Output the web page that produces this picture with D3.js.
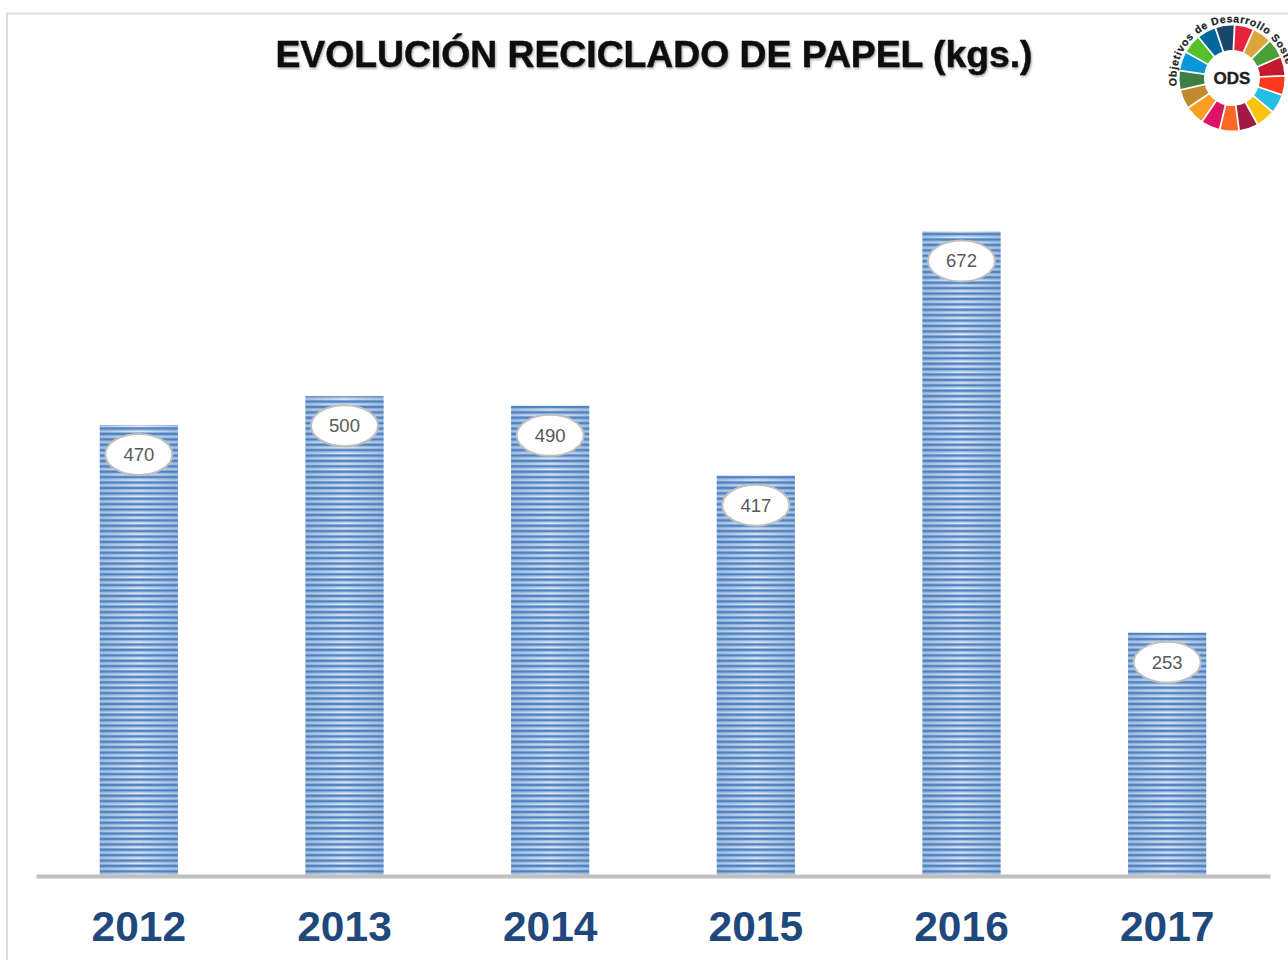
<!DOCTYPE html>
<html>
<head>
<meta charset="utf-8">
<script src="https://cdn.jsdelivr.net/npm/d3@7"></script>
<style>
html, body { margin: 0; padding: 0; background: #fff; overflow: hidden; }
svg { display: block; font-family: "Liberation Sans", Arial, sans-serif; }
</style>
</head>
<body>
<div id="chart"></div>
<script>
var years = ["2012", "2013", "2014", "2015", "2016", "2017"];
var kilos = [470, 500, 490, 417, 672, 253];
var odsColors = ["#e5243b", "#dda63a", "#4c9f38", "#c5192d", "#ff3a21", "#26bde2", "#fcc30b", "#a21942", "#fd6925",
  "#dd1367", "#fd9d24", "#bf8b2e", "#3f7e44", "#0a97d9", "#56c02b", "#00689d", "#19486a"];

var width = 1288, height = 960;
var baseline = 875, chartLeft = 36, chartRight = 1270;

var svg = d3.select("#chart").append("svg")
  .attr("width", width)
  .attr("height", height);

// thin horizontal stripes used to fill the bars
var defs = svg.append("defs");
var stripes = defs.append("pattern")
  .attr("id", "stripes")
  .attr("patternUnits", "userSpaceOnUse")
  .attr("width", 10)
  .attr("height", 5.4)
  .attr("y", baseline);
stripes.append("rect").attr("width", 10).attr("height", 5.4).attr("fill", "#e4ecf7");
stripes.append("rect").attr("width", 10).attr("y", 0.4).attr("height", 2.7).attr("fill", "#4f83c4");
stripes.append("rect").attr("width", 10).attr("y", 3.1).attr("height", 0.9).attr("fill", "#9dbbe0");

var fade = defs.append("linearGradient").attr("id", "edgeFade");
fade.append("stop").attr("offset", "0").attr("stop-color", "#4f81bd").attr("stop-opacity", 0.35);
fade.append("stop").attr("offset", "0.5").attr("stop-color", "#4f81bd").attr("stop-opacity", 0);
fade.append("stop").attr("offset", "1").attr("stop-color", "#4f81bd").attr("stop-opacity", 0.35);

var titleShadow = defs.append("filter").attr("id", "titleShadow");
titleShadow.append("feDropShadow")
  .attr("dx", 1)
  .attr("dy", 1.5)
  .attr("stdDeviation", 0.9)
  .attr("flood-color", "#000")
  .attr("flood-opacity", 0.35);

// outer frame of the slide, only top and left are visible
svg.append("path")
  .attr("d", "M7,960V13.5H1288")
  .attr("fill", "none")
  .attr("stroke", "#dcdcdc")
  .attr("stroke-width", 2);

var x = d3.scaleBand()
  .domain(years)
  .range([chartLeft, chartRight])
  .paddingInner(0.62)
  .paddingOuter(0.31);

var y = d3.scaleLinear()
  .domain([0, 672])
  .range([baseline, 231.5]);

var rows = years.map(function(d, i) { return {year: d, value: kilos[i]}; });

var bar = svg.selectAll(".bar")
  .data(rows)
  .join("g")
  .attr("class", "bar");

bar.append("rect")
  .attr("x", (d) => x(d.year))
  .attr("y", (d) => y(d.value))
  .attr("width", x.bandwidth())
  .attr("height", (d) => baseline - y(d.value))
  .attr("fill", "url(#stripes)");

bar.append("rect")
  .attr("x", (d) => x(d.year))
  .attr("y", (d) => y(d.value))
  .attr("width", x.bandwidth())
  .attr("height", (d) => baseline - y(d.value))
  .attr("fill", "url(#edgeFade)");

// axis line and year labels
var xAxis = d3.axisBottom(x).tickSize(0).tickPadding(35);
var axisG = svg.append("g")
  .attr("class", "x axis")
  .attr("transform", "translate(0," + (baseline + 1) + ")")
  .call(xAxis);
axisG.select(".domain")
  .attr("stroke", "#bfbfbf")
  .attr("stroke-width", 4);
axisG.selectAll("text")
  .attr("fill", "#1f497d")
  .style("font-family", '"Liberation Sans", Arial, sans-serif')
  .style("font-size", "42.5px")
  .style("font-weight", "bold");

// value bubbles
bar.append("ellipse")
  .attr("cx", (d) => x(d.year) + x.bandwidth() / 2)
  .attr("cy", (d) => y(d.value) + 29.5)
  .attr("rx", 33.5)
  .attr("ry", 20.5)
  .attr("fill", "#fff")
  .attr("stroke", "#bfbfbf")
  .attr("stroke-width", 2);

bar.append("text")
  .attr("x", (d) => x(d.year) + x.bandwidth() / 2)
  .attr("y", (d) => y(d.value) + 29.5)
  .attr("dy", ".35em")
  .attr("text-anchor", "middle")
  .attr("fill", "#595959")
  .style("font-size", "18.5px")
  .text((d) => d.value);

svg.append("text")
  .attr("x", 654)
  .attr("y", 67)
  .attr("text-anchor", "middle")
  .attr("fill", "#111")
  .attr("stroke", "#111")
  .attr("stroke-width", 0.5)
  .attr("filter", "url(#titleShadow)")
  .style("font-size", "37.3px")
  .style("font-weight", "bold")
  .text("EVOLUCIÓN RECICLADO DE PAPEL (kgs.)");

// ODS wheel in the top right corner
var logo = svg.append("g")
  .attr("class", "logo")
  .attr("transform", "translate(1232,78)");

var arc = d3.arc()
  .innerRadius(28)
  .outerRadius(52.5)
  .padAngle(0.03);

var slice = 2 * Math.PI / odsColors.length;
var start = 0.05;

logo.selectAll("path.wedge")
  .data(odsColors)
  .join("path")
  .attr("class", "wedge")
  .attr("d", (d, i) => arc({startAngle: start + i * slice, endAngle: start + (i + 1) * slice}))
  .attr("fill", (d) => d);

logo.append("text")
  .attr("y", 0)
  .attr("dy", ".35em")
  .attr("text-anchor", "middle")
  .attr("fill", "#222")
  .attr("stroke", "#222")
  .attr("stroke-width", 0.4)
  .style("font-size", "17px")
  .style("font-weight", "bold")
  .text("ODS");

logo.append("path")
  .attr("id", "logoCurve")
  .attr("fill", "none")
  .attr("d", "M-55,8A55.6,55.6 0 1 1 55,8");

logo.append("text")
  .attr("fill", "#222")
  .attr("stroke", "#222")
  .attr("stroke-width", 0.25)
  .style("font-size", "10.5px")
  .style("font-weight", "bold")
  .style("letter-spacing", "0.7px")
  .append("textPath")
  .attr("href", "#logoCurve")
  .text("Objetivos de Desarrollo Soste");
</script>
</body>
</html>
